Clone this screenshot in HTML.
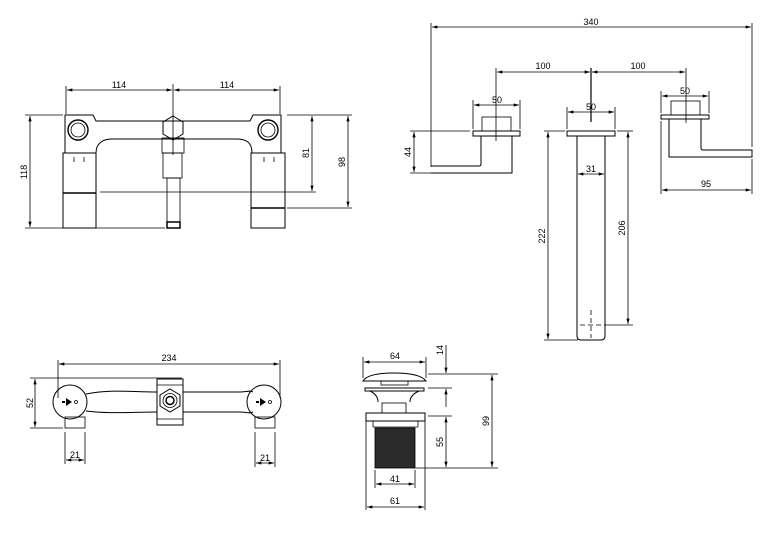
<!DOCTYPE html>
<html><head><meta charset="utf-8"><style>
html,body{margin:0;padding:0;background:#fff}
svg{display:block}
text{font-family:"Liberation Sans",sans-serif;font-size:9px;fill:#000}
</style></head><body>
<svg width="782" height="538" viewBox="0 0 782 538" xmlns="http://www.w3.org/2000/svg">
<defs>
<marker id="a" viewBox="0 0 10 6" refX="10" refY="3" markerWidth="8" markerHeight="4" orient="auto-start-reverse"><path d="M0,0L10,3L0,6z" fill="#000"/></marker>
</defs>
<g fill="none" stroke="#000" stroke-width="0.8">
<line x1="67" y1="90" x2="172" y2="90" marker-start="url(#a)" marker-end="url(#a)"/>
<line x1="174" y1="90" x2="279" y2="90" marker-start="url(#a)" marker-end="url(#a)"/>
<line x1="66" y1="86" x2="66" y2="114"/><line x1="280" y1="86" x2="280" y2="114"/>
<line x1="173" y1="84" x2="173" y2="155"/>
<path d="M65,115 L93,115 L96,121 L250,121 L253,115 L281,115 L281,153 L252,153 C252,142 246,139 236,139 L112,139 C102,139 96,144 96,153 L65,153 Z" stroke-width="1"/>
<circle cx="78" cy="130" r="10" stroke-width="1.4"/><circle cx="78" cy="130" r="7"/>
<circle cx="268" cy="130" r="10" stroke-width="1.4"/><circle cx="268" cy="130" r="7"/>
<polygon points="173,116 183,122 183,134 173,140 163,134 163,122" stroke-width="1"/>
<rect x="162" y="138" width="22" height="15"/>
<rect x="163" y="153" width="19" height="25"/>
<rect x="167" y="178" width="13" height="44"/>
<rect x="167" y="222" width="13" height="6" stroke-width="1.5"/>
<rect x="63" y="153" width="33" height="75" stroke-width="1"/>
<line x1="63" y1="193" x2="96" y2="193" stroke-width="1.5"/>
<rect x="251" y="153" width="34" height="75" stroke-width="1"/>
<line x1="251" y1="208" x2="285" y2="208" stroke-width="1.5"/>
<line x1="74" y1="157" x2="74" y2="162"/><line x1="84" y1="157" x2="84" y2="162"/>
<line x1="264" y1="157" x2="264" y2="162"/><line x1="274" y1="157" x2="274" y2="162"/>
<line x1="25" y1="115" x2="63" y2="115"/><line x1="25" y1="228" x2="165" y2="228"/>
<line x1="30" y1="116" x2="30" y2="227" marker-start="url(#a)" marker-end="url(#a)"/>
<line x1="100" y1="192" x2="316" y2="192"/><line x1="287" y1="115" x2="352" y2="115"/>
<line x1="287" y1="208" x2="352" y2="208"/>
<line x1="312" y1="116" x2="312" y2="191" marker-start="url(#a)" marker-end="url(#a)"/>
<line x1="348" y1="116" x2="348" y2="207" marker-start="url(#a)" marker-end="url(#a)"/>

<line x1="432" y1="27" x2="751" y2="27" marker-start="url(#a)" marker-end="url(#a)"/>
<line x1="431" y1="23" x2="431" y2="167"/><line x1="752" y1="23" x2="752" y2="147"/>
<line x1="497" y1="72" x2="590" y2="72" marker-start="url(#a)" marker-end="url(#a)"/>
<line x1="592" y1="72" x2="685" y2="72" marker-start="url(#a)" marker-end="url(#a)"/>
<line x1="496" y1="68" x2="496" y2="141"/><line x1="591" y1="68" x2="591" y2="122" stroke-width="1.2"/><line x1="686" y1="68" x2="686" y2="123"/>
<rect x="482" y="117" width="29" height="14"/>
<rect x="473" y="131" width="47" height="5" stroke-width="1"/>
<path d="M431,173 L512,173 L512,136 M481,136 L481,164 Q481,166 479,166 L431,166" stroke-width="1"/>
<line x1="474" y1="105" x2="519" y2="105" marker-start="url(#a)" marker-end="url(#a)"/>
<line x1="473" y1="100" x2="473" y2="129"/><line x1="520" y1="100" x2="520" y2="129"/>
<line x1="410" y1="131" x2="470" y2="131"/><line x1="410" y1="173" x2="431" y2="173"/>
<line x1="414" y1="132" x2="414" y2="172" marker-start="url(#a)" marker-end="url(#a)"/>
<rect x="567" y="131" width="48" height="5" stroke-width="1"/>
<path d="M577,136 L577,336 Q577,340 581,340 L601,340 Q605,340 605,336 L605,136" stroke-width="1"/>
<line x1="591" y1="310" x2="591" y2="338" stroke-dasharray="5,3"/>
<line x1="580" y1="325" x2="602" y2="325" stroke-dasharray="5,3"/>
<line x1="568" y1="112" x2="614" y2="112" marker-start="url(#a)" marker-end="url(#a)"/>
<line x1="567" y1="107" x2="567" y2="129"/><line x1="615" y1="107" x2="615" y2="129"/>
<line x1="578" y1="174" x2="604" y2="174" marker-start="url(#a)" marker-end="url(#a)"/>
<line x1="544" y1="131" x2="565" y2="131"/><line x1="544" y1="340" x2="578" y2="340"/>
<line x1="548" y1="132" x2="548" y2="339" marker-start="url(#a)" marker-end="url(#a)"/>
<line x1="617" y1="131" x2="633" y2="131"/><line x1="604" y1="325" x2="633" y2="325"/>
<line x1="628" y1="132" x2="628" y2="324" marker-start="url(#a)" marker-end="url(#a)"/>
<rect x="671" y="101" width="29" height="14"/>
<rect x="661" y="115" width="48" height="4" stroke-width="1"/>
<path d="M669,119 L669,157 L752,157 L752,150 L703,150 Q701,150 701,148 L701,119" stroke-width="1"/>
<line x1="662" y1="96" x2="708" y2="96" marker-start="url(#a)" marker-end="url(#a)"/>
<line x1="661" y1="91" x2="661" y2="113"/><line x1="709" y1="91" x2="709" y2="113"/>
<line x1="662" y1="190" x2="751" y2="190" marker-start="url(#a)" marker-end="url(#a)"/>
<line x1="661" y1="121" x2="661" y2="194"/><line x1="752" y1="159" x2="752" y2="194"/>

<line x1="59" y1="364" x2="279" y2="364" marker-start="url(#a)" marker-end="url(#a)"/>
<line x1="58" y1="360" x2="58" y2="398"/><line x1="280" y1="360" x2="280" y2="398"/>
<line x1="30" y1="378" x2="182" y2="378"/><line x1="30" y1="428" x2="63" y2="428"/>
<line x1="35" y1="379" x2="35" y2="427" marker-start="url(#a)" marker-end="url(#a)"/>
<path d="M86,394 C110,389 130,392 157,392 M86,411 C110,414 130,412 157,412 M183,392 L240,392 C246,392 250,390 253,392 M183,412 L240,412 C246,412 250,414 253,412" stroke-width="1"/>
<circle cx="70" cy="402" r="17" stroke-width="1"/>
<circle cx="264" cy="402" r="17" stroke-width="1"/>
<rect x="157" y="379" width="26" height="46" stroke-width="1"/>
<line x1="157" y1="385" x2="183" y2="385"/><line x1="157" y1="419" x2="183" y2="419"/>
<polygon points="170,389 180,395 180,406 170,412 160,406 160,395" stroke-width="1"/>
<circle cx="170" cy="400.5" r="7"/><circle cx="170" cy="400.5" r="4" stroke-width="1.5"/>
<rect x="65" y="417" width="20" height="11"/>
<rect x="255" y="417" width="20" height="11"/>
<circle cx="76" cy="402" r="1.5"/><circle cx="270" cy="402" r="1.5"/>
<line x1="65" y1="432" x2="65" y2="464"/><line x1="85" y1="432" x2="85" y2="464"/>
<line x1="66" y1="460" x2="84" y2="460" marker-start="url(#a)" marker-end="url(#a)"/>
<line x1="255" y1="432" x2="255" y2="467"/><line x1="275" y1="432" x2="275" y2="467"/>
<line x1="256" y1="463" x2="274" y2="463" marker-start="url(#a)" marker-end="url(#a)"/>

<path d="M363,381 Q368,373 394,373 Q420,373 426,381 Z" stroke-width="1"/>
<rect x="381" y="381" width="27" height="4"/>
<path d="M365,388 L424,388 L424,391 L365,391 Z M370,391 Q378,395 378,402 M419,391 Q410,395 410,402" stroke-width="1"/>
<rect x="382" y="403" width="24" height="10"/>
<rect x="366" y="413" width="59" height="8" stroke-width="1"/>
<line x1="373" y1="421" x2="373" y2="427"/><line x1="418" y1="421" x2="418" y2="427"/>
<line x1="373" y1="427" x2="418" y2="427"/>
<rect x="375" y="428" width="40" height="40" fill="#2a2a2a"/>
<line x1="366" y1="421" x2="366" y2="510"/><line x1="425" y1="421" x2="425" y2="510"/>
<line x1="363" y1="357" x2="363" y2="378"/><line x1="426" y1="357" x2="426" y2="378"/>
<line x1="364" y1="362" x2="425" y2="362" marker-start="url(#a)" marker-end="url(#a)"/>
<line x1="375" y1="470" x2="375" y2="488"/><line x1="415" y1="470" x2="415" y2="488"/>
<line x1="376" y1="484" x2="414" y2="484" marker-start="url(#a)" marker-end="url(#a)"/>
<line x1="367" y1="507" x2="424" y2="507" marker-start="url(#a)" marker-end="url(#a)"/>
<line x1="428" y1="374" x2="498" y2="374"/><line x1="428" y1="388" x2="452" y2="388"/>
<line x1="428" y1="416" x2="452" y2="416"/><line x1="415" y1="468" x2="498" y2="468"/>
<line x1="446" y1="345" x2="446" y2="373" marker-end="url(#a)"/>
<line x1="446" y1="407" x2="446" y2="389" marker-end="url(#a)"/>
<line x1="446" y1="417" x2="446" y2="467" marker-start="url(#a)" marker-end="url(#a)"/>
<line x1="492" y1="375" x2="492" y2="467" marker-start="url(#a)" marker-end="url(#a)"/>
</g>
<g fill="#000">
<path d="M66,398 L72,402 L66,406 Z M62,401 h3 v2 h-3z"/>
<path d="M260,398 L266,402 L260,406 Z M256,401 h3 v2 h-3z"/>
</g>
<text x="119" y="88" text-anchor="middle">114</text>
<text x="227" y="88" text-anchor="middle">114</text>
<text transform="translate(27,172) rotate(-90)" text-anchor="middle">118</text>
<text transform="translate(309,153) rotate(-90)" text-anchor="middle">81</text>
<text transform="translate(345,162) rotate(-90)" text-anchor="middle">98</text>
<text x="591" y="25" text-anchor="middle">340</text>
<text x="543" y="69" text-anchor="middle">100</text>
<text x="638" y="69" text-anchor="middle">100</text>
<text x="497" y="103" text-anchor="middle">50</text>
<text x="591" y="110" text-anchor="middle">50</text>
<text x="685" y="94" text-anchor="middle">50</text>
<text transform="translate(411,152) rotate(-90)" text-anchor="middle">44</text>
<text x="591" y="172" text-anchor="middle">31</text>
<text x="706" y="187" text-anchor="middle">95</text>
<text transform="translate(545,236) rotate(-90)" text-anchor="middle">222</text>
<text transform="translate(625,228) rotate(-90)" text-anchor="middle">206</text>
<text x="169" y="361" text-anchor="middle">234</text>
<text transform="translate(33,403) rotate(-90)" text-anchor="middle">52</text>
<text x="75" y="458" text-anchor="middle">21</text>
<text x="265" y="461" text-anchor="middle">21</text>
<text x="395" y="359" text-anchor="middle">64</text>
<text transform="translate(443,350) rotate(-90)" text-anchor="middle">14</text>
<text transform="translate(443,442) rotate(-90)" text-anchor="middle">55</text>
<text transform="translate(489,421) rotate(-90)" text-anchor="middle">99</text>
<text x="395" y="482" text-anchor="middle">41</text>
<text x="395" y="504" text-anchor="middle">61</text>
</svg>
</body></html>
